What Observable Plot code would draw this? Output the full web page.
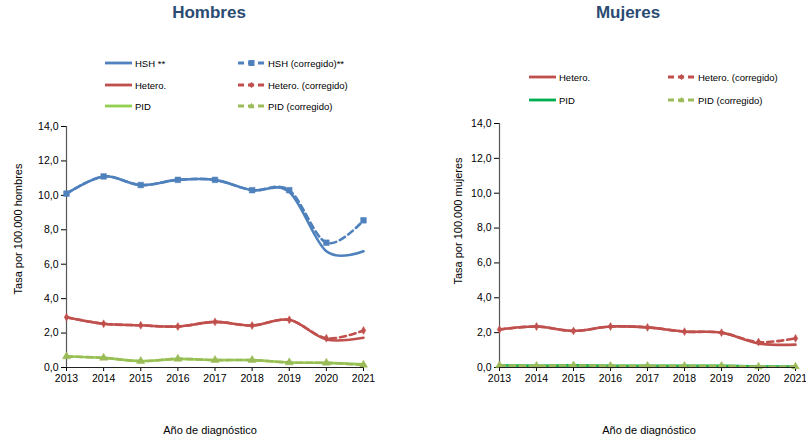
<!DOCTYPE html>
<html>
<head>
<meta charset="utf-8">
<script src="https://cdn.jsdelivr.net/npm/d3@7"></script>
<script src="https://cdn.jsdelivr.net/npm/@observablehq/plot@0.6"></script>
<style>
  body { margin: 0; background: #fff; font-family: "Liberation Sans", Arial, sans-serif; }
  #wrap { position: relative; width: 806px; height: 439px; overflow: hidden; }
  .panel { position: absolute; top: 0; }
  .title { position: absolute; top: 3px; font-size: 17px; font-weight: bold; color: #2B4B73; transform: translateX(-50%); white-space: nowrap; }
  .leg { position: absolute; font-size: 9.5px; color: #000; white-space: nowrap; display: flex; align-items: center; }
  .leg svg { margin-right: 3px; overflow: visible; }
  .axt { position: absolute; font-size: 11px; color: #000; white-space: nowrap; line-height: 12px; }
</style>
</head>
<body>
<div id="wrap"></div>
<script>
const years = [2013, 2014, 2015, 2016, 2017, 2018, 2019, 2020, 2021];
const yTicks = [0, 2, 4, 6, 8, 10, 12, 14];

// Hombres
const hshH        = [10.1, 11.1, 10.6, 10.9, 10.9, 10.3, 10.2, 6.75, 6.75];
const hshHCorr    = [10.1, 11.1, 10.6, 10.9, 10.9, 10.3, 10.3, 7.25, 8.55];
const heteroH     = [2.92, 2.54, 2.45, 2.38, 2.65, 2.44, 2.77, 1.63, 1.73];
const heteroHCorr = [2.92, 2.54, 2.45, 2.38, 2.65, 2.44, 2.77, 1.70, 2.15];
const pidH        = [0.64, 0.56, 0.37, 0.50, 0.43, 0.43, 0.29, 0.27, 0.18];
const pidHCorr    = [0.64, 0.56, 0.37, 0.50, 0.43, 0.43, 0.29, 0.27, 0.15];

// Mujeres
const heteroM     = [2.18, 2.35, 2.10, 2.35, 2.30, 2.06, 2.00, 1.38, 1.31];
const heteroMCorr = [2.18, 2.35, 2.10, 2.35, 2.30, 2.06, 2.00, 1.46, 1.67];
const pidM        = [0.12, 0.10, 0.12, 0.10, 0.10, 0.10, 0.10, 0.06, 0.06];
const pidMCorr    = [0.12, 0.10, 0.12, 0.10, 0.10, 0.10, 0.10, 0.05, 0.05];

const C = {
  hsh: "#4F81BD",
  hetero: "#C0504D",
  pidH: "#92D050",
  pidCorr: "#9BBB59",
  pidM: "#00B050"
};

function solid(vals, color) {
  return Plot.line(years, {x: d => d, y: (d, i) => vals[i], stroke: color, strokeWidth: 2.6, curve: "cardinal"});
}
function dashed(vals, color, symbol, r) {
  return [
    Plot.line(years, {x: d => d, y: (d, i) => vals[i], stroke: color, strokeWidth: 2.6, strokeDasharray: "6,4", curve: "cardinal"}),
    Plot.dot(years, {x: d => d, y: (d, i) => vals[i], fill: color, stroke: color, strokeWidth: 0.5, symbol, r})
  ];
}

function panel(opts) {
  return Plot.plot({
    width: 403,
    height: 439,
    marginLeft: opts.ml,
    marginRight: opts.mr,
    marginTop: opts.mt,
    marginBottom: 72,
    style: {fontFamily: "'Liberation Sans', Arial, sans-serif", fontSize: "10.5px", color: "#000", background: "transparent", overflow: "visible"},
    x: {domain: [2013, 2021], ticks: years, tickFormat: d => String(d), tickSize: 4, tickPadding: 3, label: null},
    y: {domain: [0, 14], ticks: yTicks, tickFormat: d => d.toFixed(1).replace(".", ","), tickSize: 5, tickPadding: 3, label: null},
    marks: [
      Plot.ruleX([2013], {stroke: "#555", strokeWidth: 1.2}),
      ...opts.marks,
      Plot.ruleY([0], {stroke: "#222", strokeWidth: 1.2})
    ]
  });
}

const wrap = document.getElementById("wrap");

const left = panel({
  ml: 66, mr: 40, mt: 126,
  marks: [
    solid(hshH, C.hsh), ...dashed(hshHCorr, C.hsh, "square", 3.2),
    solid(heteroH, C.hetero), ...dashed(heteroHCorr, C.hetero, "diamond", 2.4),
    solid(pidH, C.pidH), ...dashed(pidHCorr, C.pidCorr, "triangle", 3)
  ]
});
left.classList.add("panel");
left.style.left = "0px";
wrap.appendChild(left);

const right = panel({
  ml: 96, mr: 11, mt: 123,
  marks: [
    solid(heteroM, C.hetero), ...dashed(heteroMCorr, C.hetero, "diamond", 2.4),
    solid(pidM, C.pidM), ...dashed(pidMCorr, C.pidCorr, "triangle", 2.8)
  ]
});
right.classList.add("panel");
right.style.left = "403px";
wrap.appendChild(right);

function title(text, x) {
  const d = document.createElement("div");
  d.className = "title";
  d.textContent = text;
  d.style.left = x + "px";
  wrap.appendChild(d);
}
title("Hombres", 209);
title("Mujeres", 628);

function axisTitle(text, cx, cy, rotate) {
  const d = document.createElement("div");
  d.className = "axt";
  d.textContent = text;
  d.style.left = cx + "px";
  d.style.top = cy + "px";
  d.style.transform = "translate(-50%,-50%)" + (rotate ? " rotate(-90deg)" : "");
  wrap.appendChild(d);
}
axisTitle("Año de diagnóstico", 210, 430, false);
axisTitle("Año de diagnóstico", 649, 430, false);
axisTitle("Tasa por 100.000 hombres", 18, 229, true);
axisTitle("Tasa por 100.000 mujeres", 458, 221, true);

const markerPaths = {
  square: '<rect x="-3" y="-3" width="6" height="6"/>',
  diamond: '<path d="M0,-3L3,0L0,3L-3,0Z"/>',
  triangle: '<path d="M0,-3.2L3,2.2L-3,2.2Z"/>'
};
function legend(text, x, y, color, isDashed, marker) {
  const d = document.createElement("div");
  d.className = "leg";
  d.style.left = x + "px";
  d.style.top = (y - 6) + "px";
  const w = 27;
  let svg = `<svg width="${w}" height="12">`;
  svg += `<line x1="0" y1="6" x2="${w}" y2="6" stroke="${color}" stroke-width="2.8" ${isDashed ? 'stroke-dasharray="6,4"' : ''}/>`;
  if (marker) svg += `<g transform="translate(${w / 2},6)" fill="${color}">${markerPaths[marker]}</g>`;
  svg += `</svg>`;
  d.innerHTML = svg + `<span>${text}</span>`;
  wrap.appendChild(d);
}
legend("HSH **", 105, 63, C.hsh, false);
legend("HSH (corregido)**", 238, 63, C.hsh, true, "square");
legend("Hetero.", 105, 85, C.hetero, false);
legend("Hetero. (corregido)", 238, 85, C.hetero, true, "diamond");
legend("PID", 105, 106, C.pidH, false);
legend("PID (corregido)", 238, 106, C.pidCorr, true, "triangle");

legend("Hetero.", 529, 77, C.hetero, false);
legend("Hetero. (corregido)", 668, 77, C.hetero, true, "diamond");
legend("PID", 529, 100, C.pidM, false);
legend("PID (corregido)", 668, 100, C.pidCorr, true, "triangle");
</script>
</body>
</html>
